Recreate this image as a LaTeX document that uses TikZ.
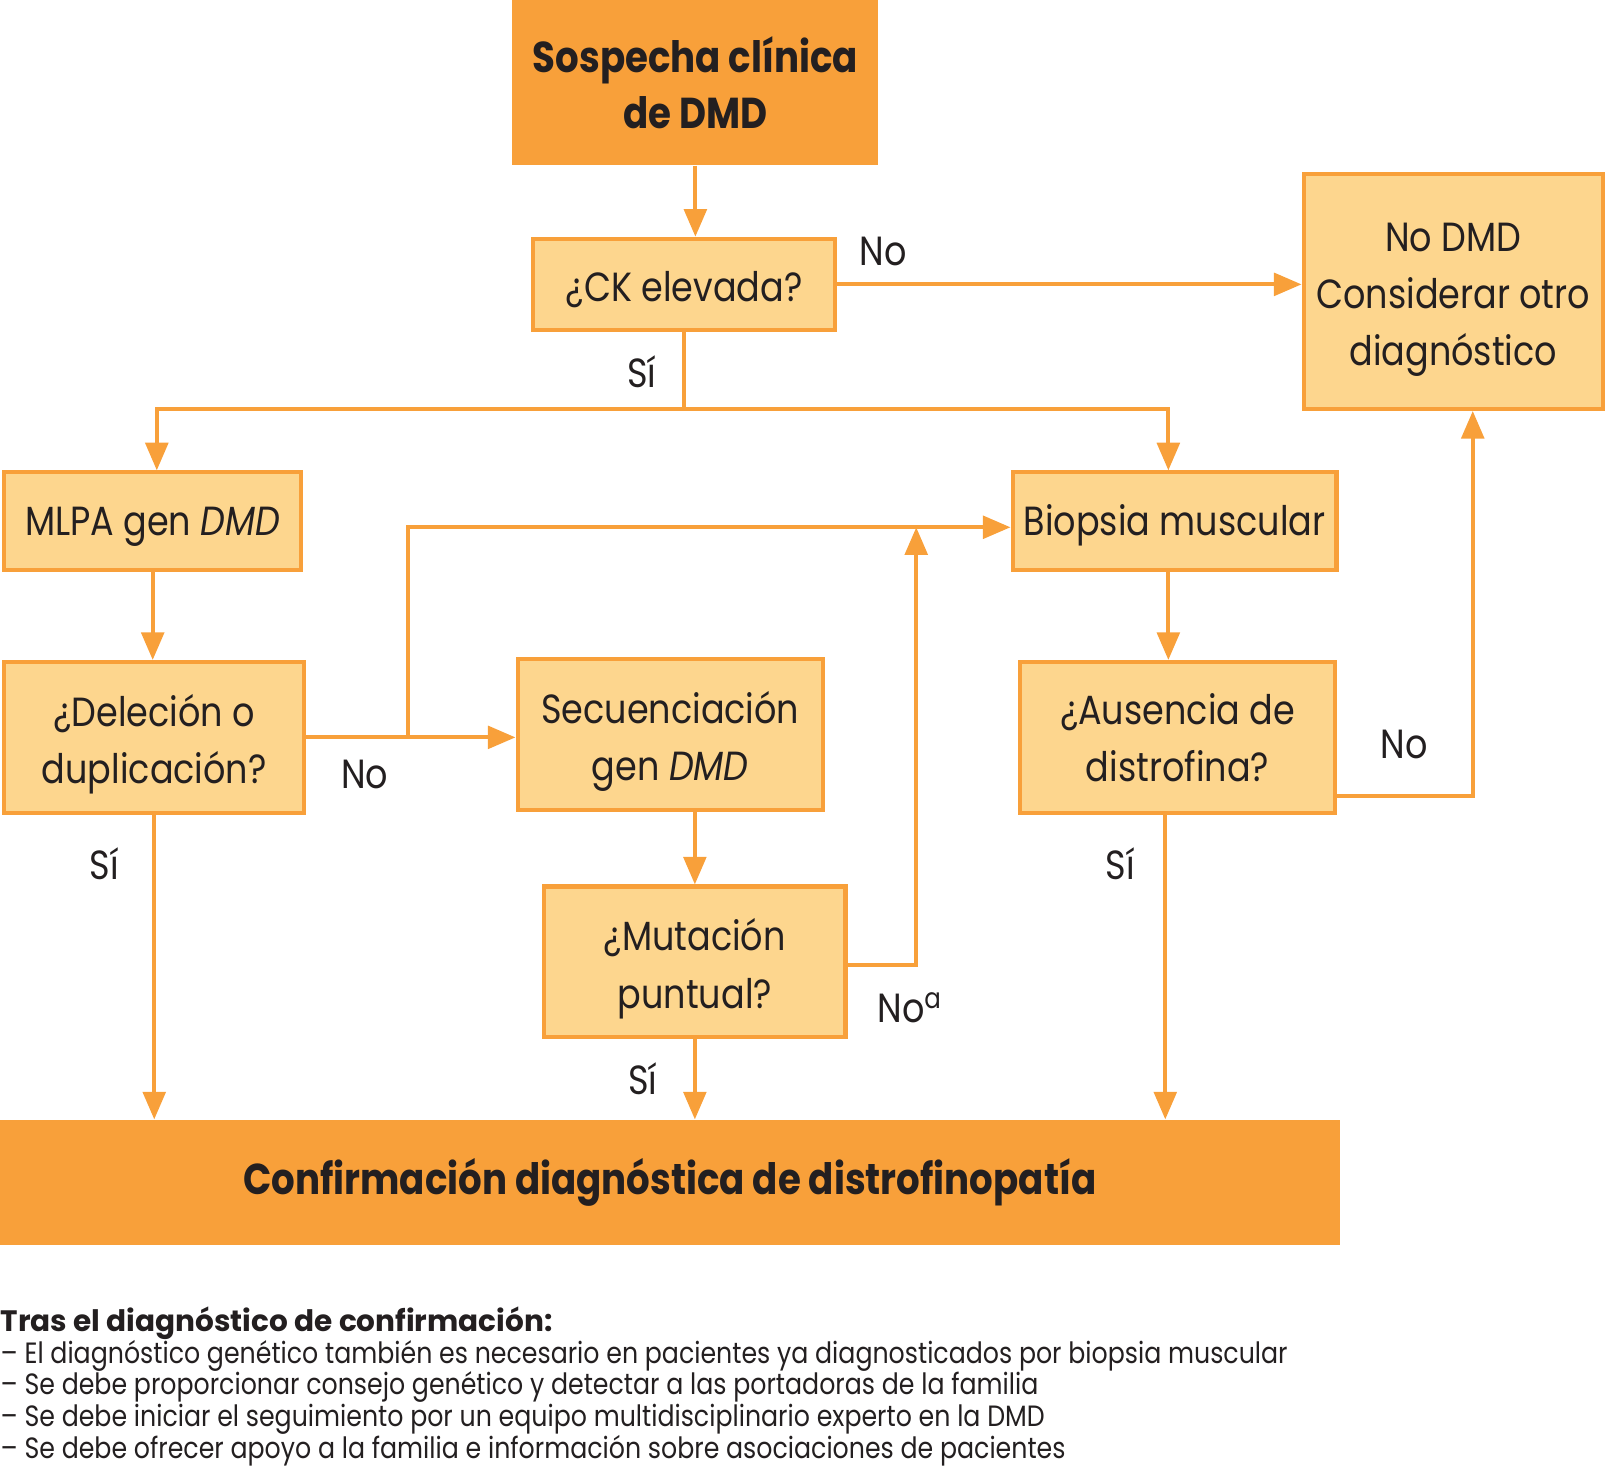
\documentclass[tikz,border=0pt]{standalone}
\usepackage{fontspec}
\setmainfont[FakeStretch=0.86]{Poppins}
\newfontfamily\anchaf{Poppins}
\usetikzlibrary{calc,arrows.meta}
\definecolor{naranja}{HTML}{F8A03A}
\definecolor{crema}{HTML}{FDD68E}
\definecolor{tinta}{HTML}{231F20}
\newcommand{\alto}[1]{\rule{0pt}{#1}}
\tikzset{
	caja/.style={draw=naranja, line width=0.04cm, fill=crema, text=tinta, align=center, inner sep=0pt, font=\fontsize{11.3}{15.9}\selectfont, execute at begin node={\alto{11pt}}},
	cajafuerte/.style={fill=naranja, text=tinta, align=center, inner sep=0pt, font=\fontsize{12}{15.6}\selectfont\bfseries},
	flecha/.style={draw=naranja, line width=0.04cm, -{Triangle[width=0.22cm,length=0.27cm]}},
	linea/.style={draw=naranja, line width=0.04cm},
	etiqueta/.style={inner sep=0pt, text=tinta, font=\fontsize{11.3}{15.6}\selectfont},
	nota/.style={inner sep=0pt, text=tinta, anchor=base west, font=\fontsize{8.15}{8.8}\selectfont}
}

\begin{document}
\begin{tikzpicture}
			%%%%% START %%%%%
			\useasboundingbox (0, 0) rectangle (15.68, 14.44);
			
			\node[cajafuerte, minimum width=3.57cm, minimum height=1.61cm] (sospecha) at (6.785, 13.635) {Sospecha clínica\\de DMD};
			\node[caja, minimum width=2.95cm, minimum height=0.89cm] (ck) at (6.675, 11.665) {¿CK elevada?};
			\node[caja, minimum width=2.92cm, minimum height=2.29cm] (nodmd) at (14.18, 11.595) {\alto{12.4pt}No DMD\\Considerar otro\\diagnóstico};
			
			\node[caja, minimum width=2.90cm, minimum height=0.95cm] (mlpa) at (1.49, 9.355) {MLPA gen \textit{DMD}};
			\node[caja, minimum width=3.16cm, minimum height=0.95cm] (biopsia) at (11.46, 9.355) {Biopsia muscular};
			
			\node[caja, minimum width=2.93cm, minimum height=1.47cm] (delecion) at (1.505, 7.245) {\alto{12.8pt}¿Deleción o\\duplicación?};
			\node[caja, minimum width=2.98cm, minimum height=1.47cm] (secuencia) at (6.54, 7.275) {\alto{12.8pt}Secuenciación\\gen \textit{DMD}};
			\node[caja, minimum width=3.08cm, minimum height=1.47cm] (ausencia) at (11.49, 7.245) {¿Ausencia de\\distrofina?};
			\node[caja, minimum width=2.94cm, minimum height=1.47cm] (mutacion) at (6.78, 5.055) {\alto{12.8pt}¿Mutación\\puntual?};
			
			\node[cajafuerte, minimum width=13.07cm, minimum height=1.22cm] (confirma) at (6.535, 2.90) {Confirmación diagnóstica de distrofinopatía};
			
			% conectores
			\draw[flecha] (sospecha.south) -- (sospecha.south |- ck.north);
			\draw[flecha] (ck.east) -- (ck.east -| nodmd.west);
			
			\coordinate (reparto) at ($(ck.south)+(0,-0.75)$);
			\draw[linea] (ck.south) -- (reparto);
			\draw[flecha] (reparto) -| ([xshift=0.04cm]mlpa.north);
			\draw[flecha] (reparto) -| ([xshift=-0.06cm]biopsia.north);
			
			\draw[flecha] (mlpa.south) -- (mlpa.south |- delecion.north);
			\draw[flecha] (delecion.east) -- (delecion.east -| secuencia.west);
			\coordinate (rama) at (3.98, 0 |- delecion.east);
			\draw[flecha] (rama) |- ([yshift=-0.06cm]biopsia.west);
			
			\draw[flecha] (mutacion.north |- secuencia.south) -- (mutacion.north);
			\coordinate (subida) at (8.94, 9.295);
			\draw[flecha] ([yshift=-0.03cm]mutacion.east) -| (subida);
			
			\draw[flecha] ([xshift=-0.06cm]biopsia.south) -- ([xshift=-0.06cm]biopsia.south |- ausencia.north);
			\draw[flecha] ([yshift=-0.575cm]ausencia.east) -| ([xshift=0.19cm]nodmd.south);
			
			\draw[flecha] (delecion.south) -- (delecion.south |- confirma.north);
			\draw[flecha] (mutacion.south) -- (mutacion.south |- confirma.north);
			\draw[flecha] ([xshift=-0.12cm]ausencia.south) -- ([xshift=-0.12cm]ausencia.south |- confirma.north);
			
			% etiquetas
			\node[etiqueta] (no1) at (8.62, 11.99) {No};
			\node[etiqueta] (si1) at (6.26, 10.81) {Sí};
			\node[etiqueta] (no2) at (3.56, 6.88) {No};
			\node[etiqueta] (si2) at (1.02, 6.01) {Sí};
			\node[etiqueta] (si3) at (10.93, 6.01) {Sí};
			\node[etiqueta] (no3) at (13.70, 7.18) {No};
			\node[etiqueta] (no4) at (8.88, 4.61) {No\textsuperscript{a}};
			\node[etiqueta] (si4) at (6.27, 3.91) {Sí};
			
			% nota final
			\node[nota, font=\fontsize{8.2}{8.8}\selectfont\anchaf\bfseries] (notatit) at (0, 1.45) {Tras el diagnóstico de confirmación:};
			\foreach \i/\t in {1/El diagnóstico genético también es necesario en pacientes ya diagnosticados por biopsia muscular,
				2/Se debe proporcionar consejo genético y detectar a las portadoras de la familia,
				3/Se debe iniciar el seguimiento por un equipo multidisciplinario experto en la DMD,
				4/Se debe ofrecer apoyo a la familia e información sobre asociaciones de pacientes}
				\node[nota] (nota\i) at (0, 1.45-0.31*\i) {– \t};
			
			%%%%% END %%%%%
\end{tikzpicture}
\end{document}
